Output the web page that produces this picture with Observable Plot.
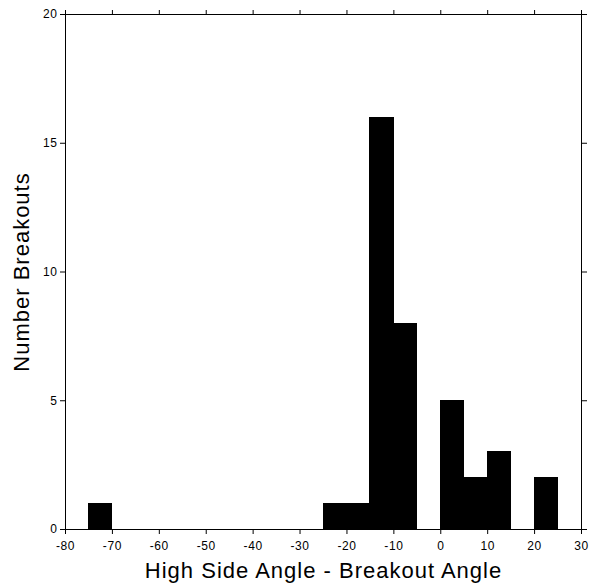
<!DOCTYPE html>
<html>
<head>
<meta charset="utf-8">
<script src="https://cdn.jsdelivr.net/npm/d3@7"></script>
<script src="https://cdn.jsdelivr.net/npm/@observablehq/plot@0.6"></script>
<style>
  html, body { margin: 0; padding: 0; background: #fff; }
  svg { font-family: "Liberation Sans", Arial, Helvetica, sans-serif; }
  .ticklab text { letter-spacing: 0.6px; }
  .title text { letter-spacing: 1px; }
  .bars rect { shape-rendering: crispEdges; }
</style>
</head>
<body>
<div id="chart"></div>
<script>
const binStarts = [-75, -25, -20, -15, -10, 0, 5, 10, 20];
const binEnds   = [-70, -20, -15, -10, -5, 5, 10, 15, 25];
const counts    = [1, 1, 1, 16, 8, 5, 2, 3, 2];
const xTicks = [-80, -70, -60, -50, -40, -30, -20, -10, 0, 10, 20, 30];
const yTicks = [0, 5, 10, 15, 20];
const xTitle = "High Side Angle - Breakout Angle";
const yTitle = "Number Breakouts";

const bars = binStarts.map((s, i) => ({x1: s, x2: binEnds[i], y: counts[i]}));

const chart = Plot.plot({
  width: 590,
  height: 583,
  marginLeft: 65,
  marginRight: 9,
  marginTop: 14,
  marginBottom: 54,
  style: {fontFamily: '"Liberation Sans", Arial, Helvetica, sans-serif', fontSize: "12px", color: "#000"},
  x: {domain: [-80, 30]},
  y: {domain: [0, 20]},
  marks: [
    Plot.rectY(bars, {x1: "x1", x2: "x2", y: "y", fill: "#000", stroke: "#000", strokeWidth: 1, inset: 0, className: "bars"}),
    Plot.frame({stroke: "#000", strokeWidth: 1}),
    Plot.axisX({anchor: "bottom", ticks: xTicks, tickSize: 5, tickPadding: 7, tickFormat: d => String(d), label: null, fontSize: 12, className: "ticklab"}),
    Plot.axisX({anchor: "top", ticks: xTicks, tickSize: 5, tickFormat: () => "", label: null}),
    Plot.axisY({anchor: "left", ticks: yTicks, tickSize: 5, tickPadding: 3, tickFormat: d => String(d), label: null, fontSize: 12, className: "ticklab"}),
    Plot.axisY({anchor: "right", ticks: yTicks, tickSize: 5, tickFormat: () => "", label: null}),
    Plot.text([xTitle], {text: d => d, frameAnchor: "bottom", dy: 41, fontSize: 22, lineAnchor: "middle", textAnchor: "middle", fill: "#000", className: "title"}),
    Plot.text([yTitle], {text: d => d, frameAnchor: "left", dx: -44, rotate: -90, fontSize: 22, lineAnchor: "middle", textAnchor: "middle", fill: "#000", className: "title"})
  ]
});
document.getElementById("chart").appendChild(chart);
</script>
</body>
</html>
